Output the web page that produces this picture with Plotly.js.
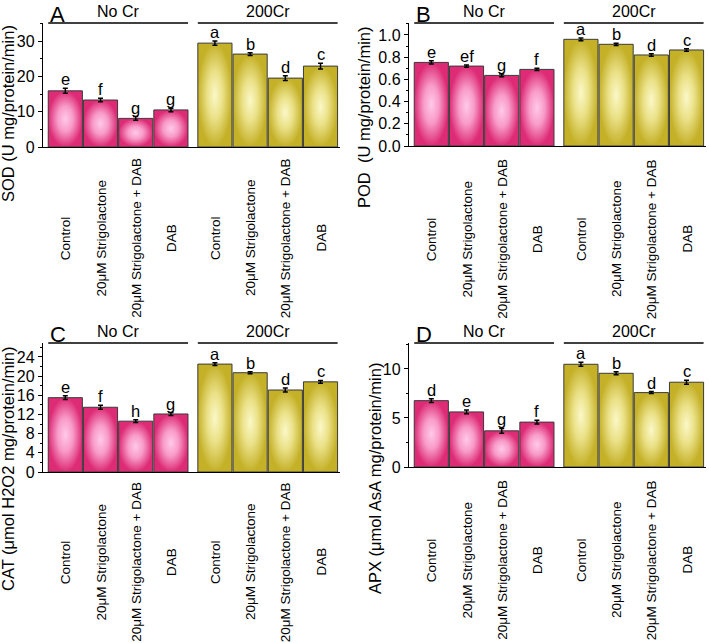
<!DOCTYPE html>
<html>
<head>
<meta charset="utf-8">
<script src="https://cdn.plot.ly/plotly-3.0.1.min.js"></script>
<style>
html,body{margin:0;padding:0;background:#fff;}
#chart{width:709px;height:643px;}
</style>
</head>
<body>
<svg width="0" height="0" style="position:absolute">
  <defs>
    <radialGradient id="gPink" cx="50%" cy="50%" r="50%">
      <stop offset="0" stop-color="#ffc9e9"/>
      <stop offset="0.45" stop-color="#f89bc9"/>
      <stop offset="1" stop-color="#dd2b75"/>
    </radialGradient>
    <radialGradient id="gYellow" cx="50%" cy="50%" r="50%">
      <stop offset="0" stop-color="#fbf8c8"/>
      <stop offset="0.45" stop-color="#ebe188"/>
      <stop offset="1" stop-color="#c4b128"/>
    </radialGradient>
  </defs>
</svg>
<div id="chart"></div>
<script>
// ---- data ----
const categories = ['Control', '20μM Strigolactone', '20μM Strigolactone + DAB', 'DAB'];
const groups = ['No Cr', '200Cr'];

const sodValues = [15.9, 13.3, 8.1, 10.5, 29.4, 26.3, 19.5, 22.9];
const sodErrors = [0.7, 0.5, 0.5, 0.5, 0.6, 0.4, 0.7, 0.8];
const sodLetters = ['e', 'f', 'g', 'g', 'a', 'b', 'd', 'c'];

const podValues = [0.753, 0.72, 0.636, 0.69, 0.961, 0.916, 0.82, 0.865];
const podErrors = [0.015, 0.01, 0.012, 0.01, 0.012, 0.01, 0.012, 0.012];
const podLetters = ['e', 'ef', 'g', 'f', 'a', 'b', 'd', 'c'];

const catValues = [15.5, 13.5, 10.6, 12.1, 22.5, 20.7, 17.1, 18.8];
const catErrors = [0.4, 0.4, 0.3, 0.3, 0.3, 0.2, 0.4, 0.3];
const catLetters = ['e', 'f', 'h', 'g', 'a', 'b', 'd', 'c'];

const apxValues = [6.77, 5.62, 3.69, 4.58, 10.48, 9.56, 7.59, 8.65];
const apxErrors = [0.2, 0.2, 0.25, 0.2, 0.2, 0.15, 0.1, 0.2];
const apxLetters = ['d', 'e', 'g', 'f', 'a', 'b', 'd', 'c'];

const panelLetters = ['A', 'B', 'C', 'D'];
const yTitles = ['SOD (U mg/protein/min)', 'POD  (U mg/protein/min)', 'CAT (μmol H2O2 mg/protein/min)', 'APX (μmol AsA mg/protein/min)'];

// ---- layout helpers ----
const W = 709, H = 643;
const FONT = 'Liberation Sans, Arial, sans-serif';
const PINK = 'rgb(224, 53, 124)';
const YELLOW = 'rgb(199, 181, 42)';
const GROUP_GAP = 0.25;

const panels = [
  {vals: sodValues, errs: sodErrors, letters: sodLetters, xdom: [43, 340], ytop: 23, ybot: 147, range: [0, 35.1], dtick: 10, minor: 5, fmt: '', tx: 8, ty: 114, ly: 238},
  {vals: podValues, errs: podErrors, letters: podLetters, xdom: [409, 706], ytop: 23, ybot: 146, range: [0, 1.108], dtick: 0.2, minor: 0.1, fmt: '.1f', tx: 364, ty: 117, ly: 239},
  {vals: catValues, errs: catErrors, letters: catLetters, xdom: [43, 340], ytop: 343, ybot: 472, range: [0, 26.9], dtick: 4, minor: 2, fmt: '', tx: 8, ty: 469, ly: 562},
  {vals: apxValues, errs: apxErrors, letters: apxLetters, xdom: [409, 706], ytop: 343, ybot: 467, range: [0, 12.65], dtick: 5, minor: 2.5, fmt: '', tx: 375, ty: 478, ly: 560}
];

const traces = [];
const annotations = [];
const shapes = [];
const layout = {
  width: W, height: H,
  margin: {l: 0, r: 0, t: 0, b: 0},
  paper_bgcolor: '#fff', plot_bgcolor: 'rgba(0,0,0,0)',
  showlegend: false,
  bargap: 0, barmode: 'overlay',
  font: {family: FONT, color: '#000'}
};

panels.forEach((p, i) => {
  const n = i === 0 ? '' : String(i + 1);
  const xa = 'x' + n, ya = 'y' + n;
  const xKey = 'xaxis' + n, yKey = 'yaxis' + n;
  const posOf = (g, c) => c + g * (categories.length + GROUP_GAP);

  groups.forEach((gName, g) => {
    const xs = categories.map((c, c_i) => posOf(g, c_i));
    const ys = categories.map((c, c_i) => p.vals[g * categories.length + c_i]);
    const es = categories.map((c, c_i) => p.errs[g * categories.length + c_i]);
    traces.push({
      type: 'bar', name: gName, x: xs, y: ys, width: 0.97,
      xaxis: xa, yaxis: ya,
      marker: {color: g === 0 ? PINK : YELLOW, line: {color: '#3a3a3a', width: 1}},
      error_y: {type: 'data', array: es, visible: true, color: '#000', thickness: 1.5, width: 2.5},
      hoverinfo: 'skip'
    });
    categories.forEach((c, c_i) => {
      const k = g * categories.length + c_i;
      annotations.push({
        xref: xa, yref: ya, x: posOf(g, c_i), y: p.vals[k] + p.errs[k],
        text: p.letters[k], showarrow: false, xanchor: 'center', yanchor: 'bottom',
        yshift: -2, font: {size: 16.5, family: FONT, color: '#000'}
      });
      annotations.push({
        xref: xa, yref: 'paper', x: posOf(g, c_i), y: 1 - p.ly / H,
        text: c, showarrow: false, textangle: -90, xanchor: 'center', yanchor: 'middle',
        font: {size: 13.5, family: FONT, color: '#000'}
      });
    });
    shapes.push({
      type: 'line', xref: xa, yref: ya + ' domain',
      x0: posOf(g, 0) - 0.485, x1: posOf(g, categories.length - 1) + 0.485, y0: 1, y1: 1,
      line: {color: '#000', width: 1.4}
    });
    annotations.push({
      xref: xa, yref: ya + ' domain', x: posOf(g, (categories.length - 1) / 2), y: 1,
      text: gName, showarrow: false, xanchor: 'center', yanchor: 'bottom', yshift: 1,
      font: {size: 16, family: FONT, color: '#000'}
    });
  });

  annotations.push({
    xref: 'paper', yref: 'paper', x: (p.xdom[0] + 5) / W, y: 1 - (p.ytop - 23) / H,
    text: panelLetters[i], showarrow: false, xanchor: 'left', yanchor: 'top',
    font: {size: 22, family: FONT, color: '#000'}
  });
  annotations.push({
    xref: 'paper', yref: 'paper', x: p.tx / W, y: 1 - p.ty / H,
    text: yTitles[i], showarrow: false, textangle: -90, xanchor: 'center', yanchor: 'middle',
    font: {size: 16.5, family: FONT, color: '#000'}
  });

  layout[xKey] = {
    domain: [p.xdom[0] / W, p.xdom[1] / W],
    anchor: ya,
    range: [-0.634, -0.634 + (p.xdom[1] - p.xdom[0]) / 35.2],
    showline: true, linecolor: '#000', linewidth: 1.2,
    showticklabels: false, ticks: '', showgrid: false, zeroline: false, fixedrange: true
  };
  layout[yKey] = {
    domain: [1 - p.ybot / H, 1 - p.ytop / H],
    anchor: xa,
    range: p.range,
    dtick: p.dtick, tick0: 0, tickformat: p.fmt,
    showline: true, linecolor: '#000', linewidth: 1.2,
    ticks: 'outside', ticklen: 4, tickwidth: 1, tickcolor: '#000',
    minor: {ticks: 'outside', ticklen: 2, dtick: p.minor, tickcolor: '#000', tickwidth: 1},
    tickfont: {size: 16, family: FONT, color: '#000'},
    showgrid: false, zeroline: false, fixedrange: true
  };
});

layout.annotations = annotations;
layout.shapes = shapes;

Plotly.newPlot('chart', traces, layout, {staticPlot: true, displayModeBar: false}).then(() => {
  document.querySelectorAll('#chart .bars .point path').forEach(path => {
    const f = path.style.fill.replace(/\s/g, '');
    if (f === PINK.replace(/\s/g, '')) path.style.fill = 'url(#gPink)';
    else if (f === YELLOW.replace(/\s/g, '')) path.style.fill = 'url(#gYellow)';
  });
});
</script>
</body>
</html>
